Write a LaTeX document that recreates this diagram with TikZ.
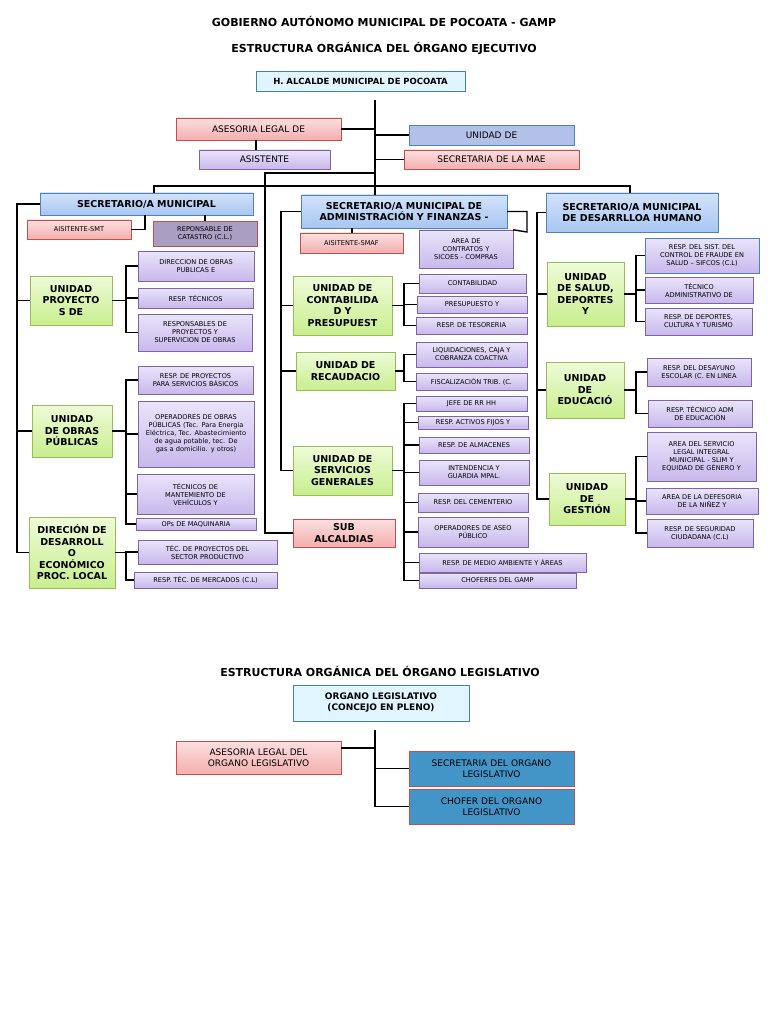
\documentclass[tikz,border=0pt]{standalone}
\usepackage{fontspec}
\setmainfont{DejaVu Sans}
\definecolor{pl}{HTML}{EAE4FA}\definecolor{pd}{HTML}{C8B8EC}\definecolor{pb}{HTML}{8064A2}
\definecolor{gl}{HTML}{EEFBD8}\definecolor{gd}{HTML}{C9EE8E}\definecolor{gb}{HTML}{9BBB59}
\definecolor{rl}{HTML}{FBE0E0}\definecolor{rd}{HTML}{F4AEAE}\definecolor{rb}{HTML}{C0504D}
\definecolor{bl}{HTML}{D2E2FA}\definecolor{bd}{HTML}{A8C6F2}\definecolor{bb}{HTML}{4F81BD}
\begin{document}
\begin{tikzpicture}[x=1pt,y=-1pt,
 red/.style={draw=rb,top color=rl,bottom color=rd},
 pur/.style={draw=pb,top color=pl,bottom color=pd},
 dpur/.style={draw=rb,fill=pd!80!black!90},
 grn/.style={draw=gb,top color=gl,bottom color=gd},
 blu/.style={draw=bb,top color=bl,bottom color=bd},
 cya/.style={draw=cyan!60!black,fill=cyan!12},
 teal/.style={draw=bb,fill=cyan!40!blue!30!white},
 dblu/.style={draw=rb,fill=bb!85!cyan},
 sm/.style={font=\fontsize{6.6}{8}\selectfont},
 md/.style={font=\fontsize{9}{11}\selectfont},
 bg/.style={font=\bfseries\fontsize{9.5}{11.5}\selectfont},
 ln/.style={line width=1.4pt}]
\newcommand\bx[7]{\node[#6,inner sep=1pt,align=center,execute at begin node={\hyphenpenalty=10000},minimum width={(#4-#2)*1pt},minimum height={(#5-#3)*1pt},text width={(#4-#2-6)*1pt}] (#1) at ({(#2+#4)/2},{(#3+#5)/2}) {#7};}
\useasboundingbox (0,0) rectangle (768,1024);
\fill[white] (0,0) rectangle (768,1024);
\node[font=\bfseries\fontsize{11}{13}\selectfont] (t1) at (384,21) {GOBIERNO AUTÓNOMO MUNICIPAL DE POCOATA - GAMP};
\node[font=\bfseries\fontsize{11}{13}\selectfont] (t2) at (384,49) {ESTRUCTURA ORGÁNICA DEL ÓRGANO EJECUTIVO};
\node[font=\bfseries\fontsize{11}{13}\selectfont] (t3) at (380,671) {ESTRUCTURA ORGÁNICA DEL ÓRGANO LEGISLATIVO};
% top
\bx{alc}{256}{71}{465}{91}{cya,font=\bfseries\fontsize{8.5}{10}\selectfont}{H. ALCALDE MUNICIPAL DE POCOATA}
\bx{ase}{176}{118}{341}{140}{red,md}{ASESORIA LEGAL DE}
\bx{asi}{199}{150}{330}{169}{pur,md}{ASISTENTE}
\bx{uni}{409}{125}{574}{145}{teal,md}{UNIDAD DE}
\bx{mae}{404}{150}{579}{169}{red,md}{SECRETARIA DE LA MAE}
\coordinate (s1) at (375,100); \coordinate (s2) at (375,186);
\coordinate (b1) at (265,173); \coordinate (bL) at (154,186); \coordinate (bR) at (630,186);
% secretarios
\bx{sm}{40}{193}{253}{215}{blu,bg}{SECRETARIO/A MUNICIPAL}
\bx{sa}{301}{195}{507}{228}{blu,bg}{SECRETARIO/A MUNICIPAL DE\\ADMINISTRACIÓN Y FINANZAS -}
\bx{sh}{546}{193}{718}{232}{blu,bg}{SECRETARIO/A MUNICIPAL\\DE DESARRLLOA HUMANO}
% left
\bx{smt}{27}{220}{131}{239}{red,sm}{AISITENTE-SMT}
\bx{cat}{153}{221}{257}{246}{dpur,sm}{REPONSABLE DE\\CATASTRO (C.L.)}
\bx{up}{30}{276}{112}{325}{grn,bg}{UNIDAD\\PROYECTO\\S DE}
\bx{l1}{138}{251}{254}{281}{pur,sm,align=left}{DIRECCION DE OBRAS\\PUBLICAS E}
\bx{l2}{138}{288}{253}{308}{pur,sm,align=left}{RESP. TÉCNICOS}
\bx{l3}{138}{314}{252}{351}{pur,sm,align=left}{RESPONSABLES DE\\PROYECTOS Y\\SUPERVICION DE OBRAS}
\bx{uo}{32}{405}{112}{457}{grn,bg}{UNIDAD\\DE OBRAS\\PÚBLICAS}
\bx{l4}{138}{366}{253}{394}{pur,sm}{RESP. DE PROYECTOS\\PARA SERVICIOS BÁSICOS}
\bx{l5}{138}{401}{254}{467}{pur,sm,align=left}{OPERADORES DE OBRAS PÚBLICAS (Tec. Para Energia Eléctrica, Tec. Abastecimiento de agua potable, tec. De gas a domicilio. y otros)}
\bx{l6}{137}{474}{254}{514}{pur,sm,align=left}{TÉCNICOS DE\\MANTEMIENTO DE\\VEHÍCULOS Y}
\bx{l7}{136}{518}{256}{530}{pur,sm}{OPs DE MAQUINARIA}
\bx{dd}{29}{517}{115}{588}{grn,bg,align=left}{DIRECIÓN DE\\DESARROLL\\O\\ECONÓMICO\\PROC. LOCAL}
\bx{l8}{138}{540}{277}{564}{pur,sm,align=left}{TÉC. DE PROYECTOS DEL\\SECTOR PRODUCTIVO}
\bx{l9}{134}{572}{277}{588}{pur,sm}{RESP. TÉC. DE MERCADOS (C.L)}
\bx{sub}{293}{519}{395}{547}{red,bg}{SUB\\ALCALDIAS}
% middle
\bx{smaf}{300}{233}{403}{253}{red,sm}{AISITENTE-SMAF}
\bx{con}{419}{230}{513}{268}{pur,sm,align=left}{AREA DE\\CONTRATOS Y\\SICOES - COMPRAS}
\bx{uc}{293}{276}{392}{335}{grn,bg}{UNIDAD DE\\CONTABILIDA\\D Y\\PRESUPUEST}
\bx{m1}{419}{274}{526}{293}{pur,sm}{CONTABILIDAD}
\bx{m2}{417}{296}{527}{313}{pur,sm}{PRESUPUESTO Y}
\bx{m3}{416}{317}{527}{334}{pur,sm}{RESP. DE TESORERIA}
\bx{ur}{296}{352}{395}{390}{grn,bg}{UNIDAD DE\\RECAUDACIO}
\bx{m4}{416}{342}{527}{367}{pur,sm}{LIQUIDACIONES, CAJA Y\\COBRANZA COACTIVA}
\bx{m5}{416}{373}{527}{390}{pur,sm}{FISCALIZACIÓN TRIB. (C.}
\bx{us}{293}{446}{392}{495}{grn,bg}{UNIDAD DE\\SERVICIOS\\GENERALES}
\bx{g1}{416}{396}{527}{411}{pur,sm}{JEFE DE RR HH}
\bx{g2}{418}{416}{528}{429}{pur,sm}{RESP. ACTIVOS FIJOS Y}
\bx{g3}{419}{437}{529}{453}{pur,sm}{RESP. DE ALMACENES}
\bx{g4}{419}{460}{529}{485}{pur,sm}{INTENDENCIA Y\\GUARDIA MPAL.}
\bx{g5}{418}{493}{528}{512}{pur,sm}{RESP. DEL CEMENTERIO}
\bx{g6}{418}{517}{528}{547}{pur,sm}{OPERADORES DE ASEO\\PÚBLICO}
\bx{g7}{419}{553}{586}{572}{pur,sm}{RESP. DE MEDIO AMBIENTE Y ÁREAS}
\bx{g8}{419}{573}{576}{588}{pur,sm}{CHOFERES DEL GAMP}
% right
\bx{usa}{547}{262}{624}{326}{grn,bg}{UNIDAD\\DE SALUD,\\DEPORTES\\Y}
\bx{r1}{645}{238}{759}{273}{pur,draw=bb,sm,align=left}{RESP. DEL SIST. DEL\\CONTROL DE FRAUDE EN\\SALUD – SIFCOS (C.L)}
\bx{r2}{645}{277}{753}{303}{pur,sm,align=left}{TÉCNICO\\ADMINISTRATIVO DE}
\bx{r3}{645}{308}{752}{335}{pur,sm,align=left}{RESP. DE DEPORTES,\\CULTURA Y TURISMO}
\bx{ued}{546}{362}{624}{418}{grn,bg}{UNIDAD\\DE\\EDUCACIÓ}
\bx{r4}{647}{358}{751}{386}{pur,sm}{RESP. DEL DESAYUNO\\ESCOLAR (C. EN LINEA}
\bx{r5}{648}{400}{752}{427}{pur,sm}{RESP. TÉCNICO ADM\\DE EDUCACIÓN}
\bx{uge}{549}{473}{625}{525}{grn,bg}{UNIDAD\\DE\\GESTIÓN}
\bx{r6}{647}{432}{756}{481}{pur,sm,align=left}{AREA DEL SERVICIO\\LEGAL INTEGRAL\\MUNICIPAL - SLIM Y\\EQUIDAD DE GÉNERO Y}
\bx{r7}{646}{488}{758}{514}{pur,sm,align=left}{AREA DE LA DEFESORIA\\DE LA NIÑEZ Y}
\bx{r8}{647}{519}{753}{547}{pur,sm}{RESP. DE SEGURIDAD\\CIUDADANA (C.L)}
% legislative
\bx{org}{293}{685}{469}{721}{cya,font=\bfseries\fontsize{9}{11}\selectfont}{ORGANO LEGISLATIVO\\(CONCEJO EN PLENO)}
\bx{ale}{176}{741}{341}{774}{red,md}{ASESORIA LEGAL DEL\\ORGANO LEGISLATIVO}
\bx{sol}{409}{751}{574}{786}{dblu,md}{SECRETARIA DEL ORGANO\\LEGISLATIVO}
\bx{cho}{409}{789}{574}{824}{dblu,md}{CHOFER DEL ORGANO\\LEGISLATIVO}
% connectors top
\draw[ln] (s1) -- (s2);
\draw[ln] (ase.east) -- (ase.east -| s1);
\draw[ln] (uni.west) -- (uni.west -| s1);
\draw[ln] (mae.west) -- (mae.west -| s1);
\draw[ln] (256,140) -- (asi.north -| 256,0);
\draw[ln] (b1 -| s1) -- (b1) |- (sub.west);
\draw[ln] (sm.north -| bL) -- (bL) -- (bR) -- (sh.north -| bR);
\draw[ln] (s2) -- (sa.north -| s2);
% left
\coordinate (xl) at (17,0); \coordinate (xb) at (126,0);
\draw[ln] (sm.west) -| (xl |- dd.west) -- (dd.west);
\draw[ln] (xl |- up.west) -- (up.west);
\draw[ln] (xl |- uo.west) -- (uo.west);
\draw[ln] (sm.south -| 145,0) |- (smt.east);
\draw[ln] (sm.south -| cat.north) -- (cat.north);
\draw[ln] (l1.west) -| (xb |- l3.west) -- (l3.west); \draw[ln] (up.east) -- (xb |- up.east); \draw[ln] (xb |- l2.west) -- (l2.west);
\draw[ln] (l4.west) -| (xb |- l7.west) -- (l7.west); \draw[ln] (uo.east) -- (xb |- uo.east); \draw[ln] (xb |- l5.west) -- (l5.west); \draw[ln] (xb |- l6.west) -- (l6.west);
\draw[ln] (l8.west) -| (xb |- l9.west) -- (l9.west); \draw[ln] (dd.east) -- (xb |- dd.east);
% middle
\coordinate (xm) at (281,0); \coordinate (xn) at (404,0);
\draw[ln] (sa.west) -| (xm |- us.west) -- (us.west);
\draw[ln] (xm |- uc.west) -- (uc.west); \draw[ln] (xm |- ur.west) -- (ur.west);
\draw[ln] (sa.south -| 352,0) -- (smaf.north -| 352,0);
\draw[ln] (sa.east) -| (527,232) -- (con.north east);
\draw[ln] (m1.west) -| (xn |- m3.west) -- (m3.west); \draw[ln] (uc.east) -- (xn |- uc.east); \draw[ln] (xn |- m2.west) -- (m2.west);
\draw[ln] (m4.west) -| (xn |- m5.west) -- (m5.west); \draw[ln] (ur.east) -- (xn |- ur.east);
\draw[ln] (g1.west) -| (xn |- g8.west) -- (g8.west); \draw[ln] (us.east) -- (xn |- us.east);
\foreach \g in {g2,g3,g4,g5,g6,g7} \draw[ln] (xn |- \g.west) -- (\g.west);
% right
\coordinate (xr) at (537,0); \coordinate (xs) at (636,0);
\draw[ln] (sh.west) -| (xr |- uge.west) -- (uge.west);
\draw[ln] (xr |- usa.west) -- (usa.west); \draw[ln] (xr |- ued.west) -- (ued.west);
\draw[ln] (r1.west) -| (xs |- r3.west) -- (r3.west); \draw[ln] (usa.east) -- (xs |- usa.east); \draw[ln] (xs |- r2.west) -- (r2.west);
\draw[ln] (r4.west) -| (xs |- r5.west) -- (r5.west); \draw[ln] (ued.east) -- (xs |- ued.east);
\draw[ln] (r6.west) -| (xs |- r8.west) -- (r8.west); \draw[ln] (uge.east) -- (xs |- uge.east); \draw[ln] (xs |- r7.west) -- (r7.west);
% legislative
\coordinate (la) at (375,730); \coordinate (lb) at (375,805);
\draw[ln] (la) -- (lb) -- (cho.west -| lb) -- (cho.west);
\draw[ln] (ale.east |- 0,748) -- (la |- 0,748);
\draw[ln] (sol.west -| la) -- (sol.west);
\end{tikzpicture}
\end{document}
